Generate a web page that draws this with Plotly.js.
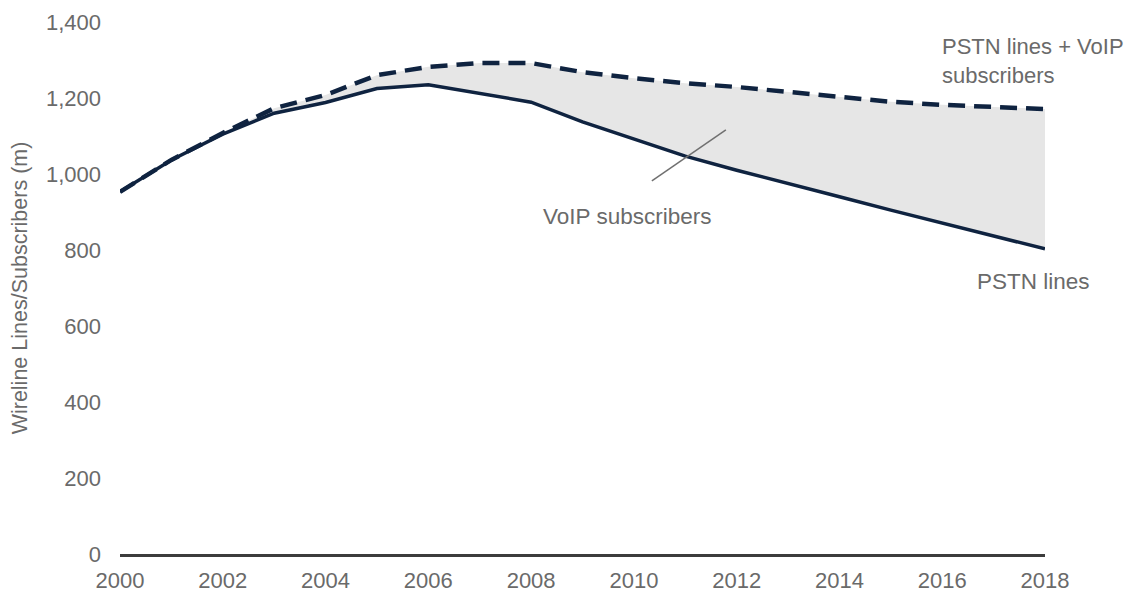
<!DOCTYPE html>
<html><head><meta charset="utf-8">
<script src="https://cdn.plot.ly/plotly-3.0.1.min.js"></script>
<style>html,body{margin:0;padding:0;background:#fff}#chart{width:1136px;height:594px}</style>
</head><body><div id="chart"></div>
<script>
const years = [2000,2001,2002,2003,2004,2005,2006,2007,2008,2009,2010,2011,2012,2013,2014,2015,2016,2017,2018];
const pstnLines = [953,1037,1105,1160,1188,1225,1235,1212,1189,1137,1092,1047,1010,974,940,905,871,835,803];
const pstnPlusVoip = [953,1037,1108,1173,1208,1260,1282,1292,1292,1268,1252,1239,1229,1216,1203,1190,1182,1176,1171];
const yTicks = [0,200,400,600,800,1000,1200,1400];
const xTicks = [2000,2002,2004,2006,2008,2010,2012,2014,2016,2018];

const navy = '#0f2340';
const grey = '#6a6a6a';
const font = 'Liberation Sans, Arial, sans-serif';

const traces = [
  {x: years, y: pstnLines, mode: 'lines', line: {width: 0, color: navy}, hoverinfo: 'skip', showlegend: false},
  {x: years, y: pstnPlusVoip, mode: 'lines', fill: 'tonexty', fillcolor: '#e6e6e6', line: {width: 0, color: navy}, hoverinfo: 'skip', showlegend: false},
  {x: years, y: pstnLines, mode: 'lines', name: 'PSTN lines', line: {width: 3.5, color: navy}, showlegend: false},
  {x: years, y: pstnPlusVoip, mode: 'lines', name: 'PSTN lines + VoIP subscribers', line: {width: 4.5, color: navy, dash: '17px,9px'}, showlegend: false}
];

const layout = {
  width: 1136, height: 594,
  margin: {l: 120, r: 91, t: 22, b: 40},
  paper_bgcolor: '#fff', plot_bgcolor: '#fff',
  font: {family: font, color: grey, size: 22},
  xaxis: {
    range: [2000, 2018], tickvals: xTicks, ticktext: xTicks.map(String),
    showgrid: false, zeroline: false, showline: true, linecolor: '#3c3c3c', linewidth: 3,
    ticks: '', ticklabelstandoff: 5, tickfont: {size: 22, color: grey}
  },
  yaxis: {
    range: [0, 1400], tickvals: yTicks, ticktext: yTicks.map(v => v.toLocaleString('en-US')),
    showgrid: false, zeroline: false, showline: false, ticks: '', ticklabelstandoff: 18,
    tickfont: {size: 22, color: grey},
    title: {text: 'Wireline Lines/Subscribers (m)', font: {size: 21.5, color: grey}, standoff: 12}
  },
  shapes: [
    {type: 'line', xref: 'x', yref: 'y', x0: 2010.35, y0: 982, x1: 2011.79, y1: 1116, line: {color: '#707070', width: 1.5}}
  ],
  annotations: [
    {x: 2009.87, y: 889, xref: 'x', yref: 'y', text: 'VoIP subscribers', showarrow: false, font: {size: 22.5, color: grey}, xanchor: 'center', yanchor: 'middle'},
    {x: 2015.96, y: 1297, xref: 'x', yref: 'y', text: 'PSTN lines + VoIP<br>subscribers', showarrow: false, align: 'left', font: {size: 22, color: grey}, xanchor: 'left', yanchor: 'middle'},
    {x: 2016.64, y: 718, xref: 'x', yref: 'y', text: 'PSTN lines', showarrow: false, font: {size: 22.5, color: grey}, xanchor: 'left', yanchor: 'middle'}
  ]
};
Plotly.newPlot('chart', traces, layout, {staticPlot: true, displayModeBar: false});
</script></body></html>
